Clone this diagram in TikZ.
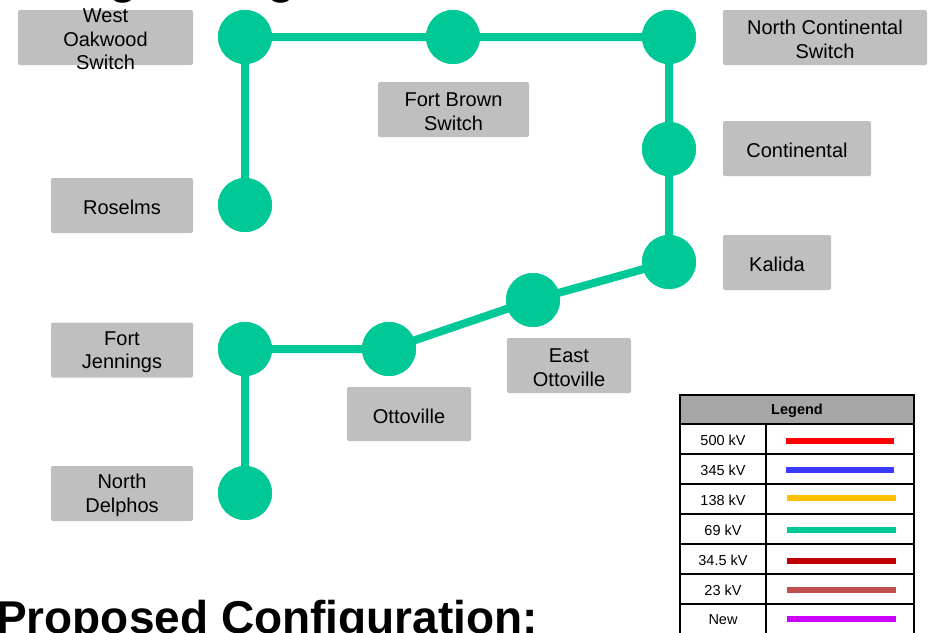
\documentclass[tikz,border=0pt]{standalone}
\usepackage{fontspec}
\setmainfont{Liberation Sans}
\definecolor{grn}{RGB}{0,201,151}
\definecolor{boxgray}{RGB}{191,191,191}
\definecolor{hdrgray}{RGB}{166,166,166}
\definecolor{lred}{RGB}{255,0,0}
\definecolor{lblue}{RGB}{59,59,255}
\definecolor{lyellow}{RGB}{255,192,0}
\definecolor{ldred}{RGB}{192,0,0}
\definecolor{lbrown}{RGB}{192,80,77}
\definecolor{lpurple}{RGB}{204,0,255}
\newcommand\StnBox[6]{%
  \node[lbox,minimum width=#3pt,minimum height=#4pt] (#1) at (#2) {};
  \node[ltxt,yshift=-2pt] (#5) at (#1) {#6};}
\begin{document}
\begin{tikzpicture}[x=1pt,y=-1pt,
  stn/.style={circle,fill=grn,minimum size=54pt,inner sep=0pt},
  link/.style={draw=grn,line width=8pt},
  lbox/.style={fill=boxgray,rounded corners=2pt,inner sep=0pt},
  ltxt/.style={inner sep=0pt,align=center,font=\fontsize{20}{23.5}\selectfont},
  legtxt/.style={inner sep=0pt,font=\fontsize{14.5}{16}\selectfont},
  legline/.style={line width=6pt},
  ttl/.style={inner sep=0pt,anchor=base west,font=\fontsize{46}{50}\selectfont\bfseries}]
\clip (0,0) rectangle (931,632);
\fill[white] (0,0) rectangle (931,632);

% titles (cut off by the page edge)
\node[ttl] (ttltop) at (-42,-7) {Existing Configuration:};
\node[ttl] (ttlbot) at (-4,633) {Proposed Configuration:};

% stations
\node[stn] (wo) at (245,37) {};
\node[stn] (fb) at (453,37) {};
\node[stn] (nc) at (669,37) {};
\node[stn] (co) at (669,149) {};
\node[stn] (ka) at (669,262) {};
\node[stn] (eo) at (533,300) {};
\node[stn] (ot) at (389,349) {};
\node[stn] (fj) at (245,349) {};
\node[stn] (nd) at (245,493) {};
\node[stn] (ro) at (245,205) {};

% links (drawn, then station discs repainted on top)
\draw[link] (wo.center) -- (fb.center) -- (nc.center) -- (co.center) -- (ka.center)
  -- (eo.center) -- (ot.center) -- (fj.center);
\draw[link] (wo.center) -- (ro.center);
\draw[link] (fj.center) -- (nd.center);
\foreach \n in {wo,fb,nc,co,ka,eo,ot,fj,nd,ro}{
  \fill[grn] (\n.center) circle (27pt);
}

% label boxes
\StnBox{bwo}{105.5,37.5}{175}{55}{two}{West\\Oakwood\\Switch}
\StnBox{bro}{122,205.5}{142}{55}{tro}{Roselms}
\StnBox{bfj}{122,350}{142}{55}{tfj}{Fort\\Jennings}
\StnBox{bnd}{122,493.5}{142}{55}{tnd}{North\\Delphos}
\StnBox{bfb}{453.5,109.5}{151}{55}{tfb}{Fort Brown\\Switch}
\StnBox{bnc}{825,37.5}{204}{55}{tnc}{North Continental\\Switch}
\StnBox{bco}{797,148.5}{148}{55}{tco}{Continental}
\StnBox{bka}{777,262.5}{108}{55}{tka}{Kalida}
\StnBox{beo}{569,365.5}{124}{55}{teo}{East\\Ottoville}
\StnBox{bot}{409,414}{124}{54}{tot}{Ottoville}

% legend
\fill[hdrgray] (680,395) rectangle (914,424);
\draw[line width=1.8pt] (680,395) rectangle (914,640);
\foreach \yy in {424,454,484,514,544,574,604}{
  \draw[line width=1.8pt] (680,\yy) -- (914,\yy);
}
\draw[line width=1.8pt] (766,424) -- (766,640);
\node[legtxt,font=\fontsize{14.5}{16}\selectfont\bfseries] (lgh) at (797,410.5) {Legend};
\node[legtxt] (l1) at (723,440) {500 kV};
\node[legtxt] (l2) at (723,470) {345 kV};
\node[legtxt] (l3) at (723,500) {138 kV};
\node[legtxt] (l4) at (723,530) {69 kV};
\node[legtxt] (l5) at (723,560) {34.5 kV};
\node[legtxt] (l6) at (723,590) {23 kV};
\node[legtxt] (l7) at (723,620) {New};
\coordinate (s1a) at (786,441); \coordinate (s1b) at (894,441);
\coordinate (s2a) at (786,470); \coordinate (s2b) at (894,470);
\coordinate (s3a) at (787,498); \coordinate (s3b) at (896,498);
\coordinate (s4a) at (787,530); \coordinate (s4b) at (896,530);
\coordinate (s5a) at (787,561); \coordinate (s5b) at (896,561);
\coordinate (s6a) at (787,590); \coordinate (s6b) at (896,590);
\coordinate (s7a) at (787,619); \coordinate (s7b) at (896,619);
\draw[legline,lred] (s1a) -- (s1b);
\draw[legline,lblue] (s2a) -- (s2b);
\draw[legline,lyellow] (s3a) -- (s3b);
\draw[legline,grn] (s4a) -- (s4b);
\draw[legline,ldred] (s5a) -- (s5b);
\draw[legline,lbrown] (s6a) -- (s6b);
\draw[legline,lpurple] (s7a) -- (s7b);
\end{tikzpicture}
\end{document}
